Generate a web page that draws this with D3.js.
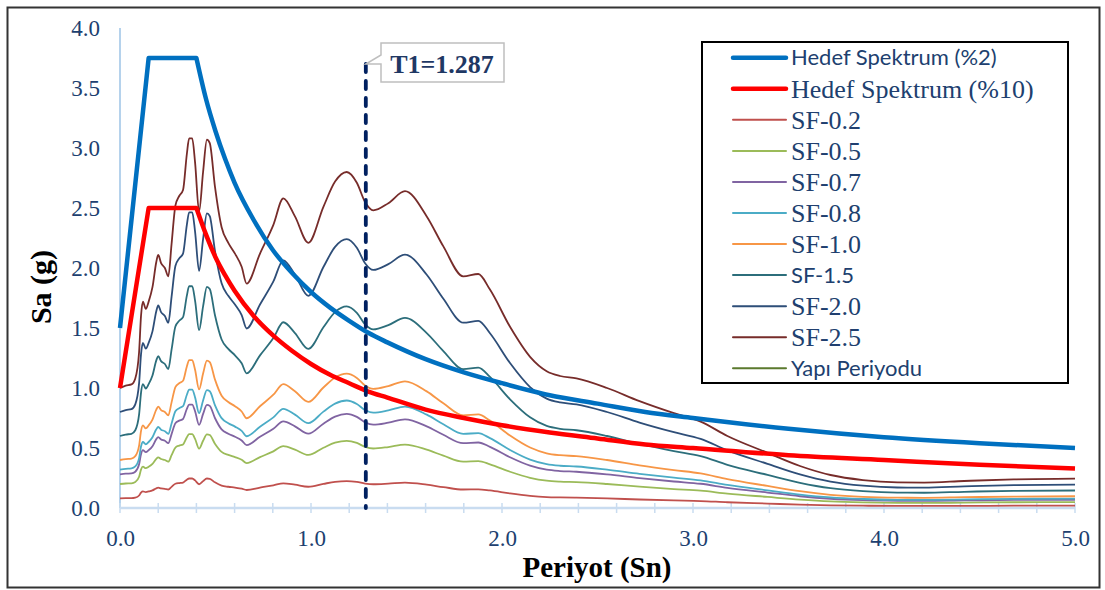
<!DOCTYPE html>
<html><head><meta charset="utf-8">
<script src="https://cdn.jsdelivr.net/npm/d3@7"></script>
<style>body{margin:0;background:#fff}svg{display:block}</style>
</head><body>
<svg id="chart" width="1105" height="590"></svg>
<script>
// ---------- data ----------
const periods = [0,0.03,0.06,0.08,0.10,0.11,0.12,0.135,0.15,0.17,0.19,0.20,0.215,0.235,0.253,0.27,0.29,0.31,0.33,0.35,0.362,0.378,0.393,0.414,0.435,0.455,0.47,0.497,0.532,0.567,0.602,0.637,0.663,0.733,0.803,0.855,0.916,0.986,1.065,1.126,1.187,1.24,1.283,1.326,1.405,1.492,1.606,1.693,1.797,1.876,1.937,2.042,2.147,2.234,2.304,2.39,2.55,2.72,2.90,3.04,3.18,3.39,3.56,3.72,3.89,4.07,4.21,4.42,4.68,5.00];

const sf02 = [0.08,0.082,0.082,0.086,0.104,0.128,0.138,0.133,0.138,0.147,0.164,0.169,0.163,0.16,0.154,0.176,0.202,0.208,0.212,0.236,0.246,0.246,0.23,0.198,0.224,0.246,0.243,0.214,0.187,0.177,0.17,0.161,0.15,0.17,0.189,0.206,0.194,0.177,0.201,0.218,0.224,0.217,0.204,0.198,0.203,0.211,0.194,0.174,0.154,0.156,0.146,0.121,0.101,0.091,0.088,0.086,0.08,0.071,0.063,0.058,0.048,0.037,0.028,0.022,0.019,0.017,0.017,0.018,0.019,0.02];
const sf05 = [0.20,0.204,0.206,0.216,0.26,0.32,0.344,0.332,0.344,0.368,0.41,0.422,0.408,0.40,0.386,0.44,0.504,0.52,0.53,0.59,0.616,0.616,0.576,0.494,0.56,0.614,0.608,0.536,0.468,0.442,0.424,0.402,0.374,0.424,0.472,0.516,0.486,0.442,0.502,0.544,0.56,0.542,0.51,0.496,0.508,0.528,0.486,0.436,0.386,0.39,0.364,0.302,0.252,0.228,0.22,0.216,0.20,0.178,0.158,0.144,0.12,0.092,0.07,0.055,0.047,0.043,0.042,0.045,0.048,0.049];
const sf07 = [0.28,0.286,0.288,0.302,0.364,0.448,0.482,0.465,0.482,0.515,0.574,0.591,0.571,0.56,0.54,0.616,0.706,0.728,0.742,0.826,0.862,0.862,0.806,0.692,0.784,0.86,0.851,0.75,0.655,0.619,0.594,0.563,0.524,0.594,0.661,0.722,0.68,0.619,0.703,0.762,0.784,0.759,0.714,0.694,0.711,0.739,0.68,0.61,0.54,0.546,0.51,0.423,0.353,0.319,0.308,0.302,0.28,0.249,0.221,0.202,0.168,0.129,0.098,0.077,0.065,0.06,0.059,0.063,0.067,0.068];
const sf08 = [0.32,0.326,0.33,0.346,0.416,0.512,0.55,0.531,0.55,0.589,0.656,0.675,0.653,0.64,0.618,0.704,0.806,0.832,0.848,0.944,0.986,0.986,0.922,0.79,0.896,0.982,0.973,0.858,0.749,0.707,0.678,0.643,0.598,0.678,0.755,0.826,0.778,0.707,0.803,0.87,0.896,0.867,0.816,0.794,0.813,0.845,0.778,0.698,0.618,0.624,0.582,0.483,0.403,0.365,0.352,0.346,0.32,0.285,0.253,0.23,0.192,0.147,0.112,0.088,0.075,0.068,0.068,0.072,0.076,0.078];
const sf10 = [0.40,0.408,0.412,0.432,0.52,0.64,0.688,0.664,0.688,0.736,0.82,0.844,0.816,0.80,0.772,0.88,1.008,1.04,1.06,1.18,1.232,1.232,1.152,0.988,1.12,1.228,1.216,1.072,0.936,0.884,0.848,0.804,0.748,0.848,0.944,1.032,0.972,0.884,1.004,1.088,1.12,1.084,1.02,0.992,1.016,1.056,0.972,0.872,0.772,0.78,0.728,0.604,0.504,0.456,0.44,0.432,0.40,0.356,0.316,0.288,0.24,0.184,0.14,0.11,0.093,0.086,0.085,0.09,0.095,0.098];
const sf15 = [0.60,0.612,0.618,0.648,0.78,0.96,1.032,0.996,1.032,1.104,1.23,1.266,1.224,1.20,1.158,1.32,1.512,1.56,1.59,1.77,1.848,1.848,1.728,1.482,1.68,1.842,1.824,1.608,1.404,1.326,1.272,1.206,1.122,1.272,1.416,1.548,1.458,1.326,1.506,1.632,1.68,1.626,1.53,1.488,1.524,1.584,1.458,1.308,1.158,1.17,1.092,0.906,0.756,0.684,0.66,0.648,0.60,0.534,0.474,0.432,0.36,0.276,0.21,0.165,0.14,0.128,0.127,0.135,0.143,0.146];
const sf20 = [0.80,0.816,0.824,0.864,1.04,1.28,1.376,1.328,1.376,1.472,1.64,1.688,1.632,1.60,1.544,1.76,2.016,2.08,2.12,2.36,2.464,2.464,2.304,1.976,2.24,2.456,2.432,2.144,1.872,1.768,1.696,1.608,1.496,1.696,1.888,2.064,1.944,1.768,2.008,2.176,2.24,2.168,2.04,1.984,2.032,2.112,1.944,1.744,1.544,1.56,1.456,1.208,1.008,0.912,0.88,0.864,0.80,0.712,0.632,0.576,0.48,0.368,0.28,0.22,0.186,0.171,0.17,0.18,0.19,0.195];
const sf25 = [1.00,1.02,1.03,1.08,1.30,1.60,1.72,1.66,1.72,1.84,2.05,2.11,2.04,2.00,1.93,2.20,2.52,2.60,2.65,2.95,3.08,3.08,2.88,2.47,2.80,3.07,3.04,2.68,2.34,2.21,2.12,2.01,1.87,2.12,2.36,2.58,2.43,2.21,2.51,2.72,2.80,2.71,2.55,2.48,2.54,2.64,2.43,2.18,1.93,1.95,1.82,1.51,1.26,1.14,1.10,1.08,1.00,0.89,0.79,0.72,0.60,0.46,0.35,0.275,0.233,0.214,0.212,0.225,0.238,0.244];

const targetPeriods = [0,0.15,0.4,0.45,0.5,0.55,0.6,0.7,0.8,0.9,1.0,1.1,1.2,1.3,1.4,1.6,1.8,2.0,2.25,2.5,2.75,3.0,3.5,4.0,4.5,5.0];
const target2  = [1.5,3.75,3.75,3.41,3.14,2.91,2.71,2.40,2.15,1.96,1.80,1.67,1.56,1.46,1.38,1.24,1.13,1.04,0.94,0.87,0.80,0.75,0.66,0.59,0.54,0.50];
const target10 = [1.0,2.5,2.5,2.28,2.09,1.94,1.81,1.60,1.44,1.31,1.20,1.11,1.04,0.97,0.92,0.82,0.75,0.69,0.63,0.58,0.53,0.50,0.44,0.40,0.36,0.33];

const structPeriod = 1.287;
const structLineSa = [0, 3.7];
const calloutText = "T1=1.287";

const yTicks = [0,0.5,1.0,1.5,2.0,2.5,3.0,3.5,4.0];
const xLabelTicks = [0,1,2,3,4,5];
const xMinorTicks = d3.range(0, 26).map(i => i / 5);

const legendLabels = ["Hedef Spektrum (%2)","Hedef Spektrum (%10)","SF-0.2","SF-0.5","SF-0.7","SF-0.8","SF-1.0","SF-1.5","SF-2.0","SF-2.5","Yapı Periyodu"];

// ---------- styles ----------
const sfSeries = [
  {values: sf02, color: "#C0504D"},
  {values: sf05, color: "#9BBB59"},
  {values: sf07, color: "#8064A2"},
  {values: sf08, color: "#4BACC6"},
  {values: sf10, color: "#F79646"},
  {values: sf15, color: "#2C6E7B"},
  {values: sf20, color: "#2E4E78"},
  {values: sf25, color: "#772C2A"}
];
const serif = "'Liberation Serif', 'Times New Roman', serif";
const sans = "Lato, 'Noto Sans', sans-serif";
const legendStyle = [
  {color:"#0070C0", w:4.5, font:sans, size:22},
  {color:"#FF0000", w:4.5, font:serif, size:26},
  {color:"#C0504D", w:2, font:serif, size:26},
  {color:"#9BBB59", w:2, font:serif, size:26},
  {color:"#8064A2", w:2, font:serif, size:26},
  {color:"#4BACC6", w:2, font:serif, size:26},
  {color:"#F79646", w:2, font:serif, size:26},
  {color:"#2C6E7B", w:2, font:sans, size:22},
  {color:"#2E4E78", w:2, font:serif, size:26},
  {color:"#772C2A", w:2, font:serif, size:26},
  {color:"#5B7A2E", w:2, font:sans, size:22}
];
const textBlue = "#203F6F";

// ---------- drawing ----------
const svg = d3.select("#chart");
svg.append("rect").attr("x",0).attr("y",0).attr("width",1105).attr("height",590).attr("fill","#fff");
svg.append("rect").attr("x",7.5).attr("y",7.5).attr("width",1092).attr("height",580)
  .attr("fill","#fff").attr("stroke","#333").attr("stroke-width",2);

const x = d3.scaleLinear().domain([0,5]).range([120,1075]);
const y = d3.scaleLinear().domain([0,4]).range([508,28]);

// axis lines
svg.append("line").attr("x1",x(0)).attr("x2",x(0)).attr("y1",y(4)).attr("y2",y(0))
  .attr("stroke","#9DC3E6").attr("stroke-width",1.5);
svg.append("g").selectAll("line").data(xMinorTicks).join("line")
  .attr("x1",d=>x(d)).attr("x2",d=>x(d)).attr("y1",y(0)-5).attr("y2",y(0)+5)
  .attr("stroke","#C9DCF0").attr("stroke-width",1.5);
svg.append("line").attr("x1",x(0)).attr("x2",x(5)).attr("y1",y(0)).attr("y2",y(0))
  .attr("stroke","#C9DCF0").attr("stroke-width",2.5);

// y tick labels
const yAxisG = svg.append("g").attr("transform",`translate(${x(0)},0)`)
  .call(d3.axisLeft(y).tickValues(yTicks).tickFormat(d3.format(".1f")).tickSize(0).tickPadding(20));
yAxisG.select(".domain").remove();
yAxisG.selectAll("text").attr("font-family",serif).attr("font-size",23).attr("fill",textBlue);

// x tick labels
const xAxisG = svg.append("g").attr("transform",`translate(0,${y(0)})`)
  .call(d3.axisBottom(x).tickValues(xLabelTicks).tickFormat(d3.format(".1f")).tickSize(0).tickPadding(22));
xAxisG.select(".domain").remove();
xAxisG.selectAll("text").attr("font-family",serif).attr("font-size",23).attr("fill",textBlue);

// SF lines
const sfLine = d3.line().x((d,i)=>x(periods[i])).y(d=>y(d)).curve(d3.curveMonotoneX);
svg.append("g").selectAll("path").data(sfSeries).join("path")
  .attr("d",d=>sfLine(d.values)).attr("fill","none")
  .attr("stroke",d=>d.color).attr("stroke-width",1.8).attr("stroke-linejoin","round");

// target spectra: straight ramp + plateau, smooth descending branch
const tLin = d3.line().x(d=>x(d[0])).y(d=>y(d[1]));
const tSmooth = d3.line().x(d=>x(d[0])).y(d=>y(d[1])).curve(d3.curveMonotoneX);
function targetPath(vals){
  const pts = targetPeriods.map((t,i)=>[t, vals[i]]);
  return tLin(pts.slice(0,3)) + tSmooth(pts.slice(2)).replace(/^M/, "L");
}
svg.append("path").attr("d",targetPath(target10)).attr("fill","none").attr("stroke","#FF0000")
  .attr("stroke-width",4.5).attr("stroke-linejoin","round");
svg.append("path").attr("d",targetPath(target2)).attr("fill","none").attr("stroke","#0070C0")
  .attr("stroke-width",4.5).attr("stroke-linejoin","round");

// structure period line
svg.append("line").attr("x1",x(structPeriod)).attr("x2",x(structPeriod))
  .attr("y1",y(structLineSa[1])).attr("y2",y(structLineSa[0]))
  .attr("stroke","#002060").attr("stroke-width",3.8).attr("stroke-dasharray","8,9").attr("stroke-linecap","round");

// callout
const tipX = x(structPeriod), tipY = y(structLineSa[1]);
svg.append("path")
  .attr("d",`M381,43 H504 V82 H381 V64 L${tipX},${tipY} L381,55 Z`)
  .attr("fill","#fff").attr("stroke","#BFBFBF").attr("stroke-width",1.5);
svg.append("text").attr("x",442).attr("y",73).attr("text-anchor","middle")
  .attr("font-family",serif).attr("font-weight","bold")
  .attr("font-size",26).attr("fill","#1F3864").text(calloutText);

// axis titles
svg.append("text").attr("transform","translate(51,287) rotate(-90)").attr("text-anchor","middle")
  .attr("font-family",serif).attr("font-weight","bold")
  .attr("font-size",30).attr("fill","#000").text("Sa (g)");
svg.append("text").attr("x",597).attr("y",577).attr("text-anchor","middle")
  .attr("font-family",serif).attr("font-weight","bold")
  .attr("font-size",29).attr("fill","#000").text("Periyot (Sn)");

// legend
svg.append("rect").attr("x",702).attr("y",42).attr("width",366).attr("height",341)
  .attr("fill","#fff").attr("stroke","#000").attr("stroke-width",2);
const lg = svg.append("g").selectAll("g").data(legendLabels).join("g")
  .attr("transform",(d,i)=>`translate(0,${57.7 + i*31.06})`);
lg.append("line").attr("x1",733).attr("x2",786).attr("y1",0).attr("y2",0)
  .attr("stroke",(d,i)=>legendStyle[i].color).attr("stroke-width",(d,i)=>legendStyle[i].w)
  .attr("stroke-linecap","round");
lg.append("text").attr("x",791).attr("y",0).attr("dy","0.35em")
  .attr("font-family",(d,i)=>legendStyle[i].font).attr("font-size",(d,i)=>legendStyle[i].size)
  .attr("fill",textBlue).text(d=>d);
</script>
</body></html>
